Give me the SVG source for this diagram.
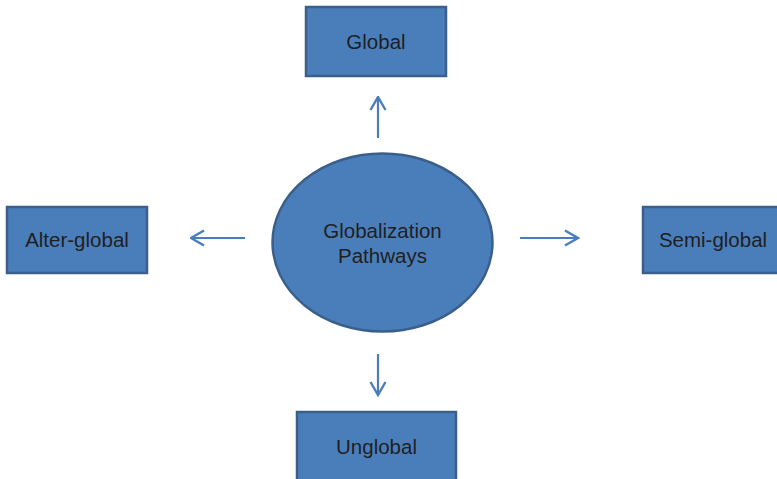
<svg xmlns="http://www.w3.org/2000/svg" width="777" height="479" viewBox="0 0 777 479">
<defs>
<style>
.node{fill:#4a7ebb;stroke:#3a5f8b;stroke-width:2.5}
.lbl{font-family:"Liberation Sans",Arial,sans-serif;font-size:20.5px;fill:#1f1f1f;text-anchor:middle;dominant-baseline:central}
.con{stroke:#4a7ebb;stroke-width:2.2;fill:none}
</style>
<marker id="ah" viewBox="0 0 16 18" refX="14.5" refY="9" markerWidth="16" markerHeight="18" markerUnits="userSpaceOnUse" orient="auto">
<path d="M1.5,1.5 L14.5,9 L1.5,16.5" fill="none" stroke="#4a7ebb" stroke-width="2.4"/>
</marker>
</defs>
<rect width="777" height="479" fill="#ffffff"/>
<g id="connectors">
<line class="con" x1="378" y1="138" x2="378" y2="97" marker-end="url(#ah)"/>
<line class="con" x1="245" y1="238" x2="191" y2="238" marker-end="url(#ah)"/>
<line class="con" x1="520" y1="238" x2="578" y2="238" marker-end="url(#ah)"/>
<line class="con" x1="378" y1="354" x2="378" y2="395" marker-end="url(#ah)"/>
</g>
<g id="center">
<ellipse class="node" cx="382.5" cy="242.5" rx="110" ry="89"/>
<text class="lbl" x="382.5" y="230">Globalization</text>
<text class="lbl" x="382.5" y="255">Pathways</text>
</g>
<g id="global">
<rect class="node" x="306" y="7" width="140" height="69"/>
<text class="lbl" x="376" y="41">Global</text>
</g>
<g id="alter-global">
<rect class="node" x="7" y="207" width="140" height="66"/>
<text class="lbl" x="77" y="239">Alter-global</text>
</g>
<g id="semi-global">
<rect class="node" x="643" y="207" width="140" height="66"/>
<text class="lbl" x="713" y="239">Semi-global</text>
</g>
<g id="unglobal">
<rect class="node" x="297" y="412" width="159" height="75"/>
<text class="lbl" x="376.5" y="446">Unglobal</text>
</g>
</svg>
